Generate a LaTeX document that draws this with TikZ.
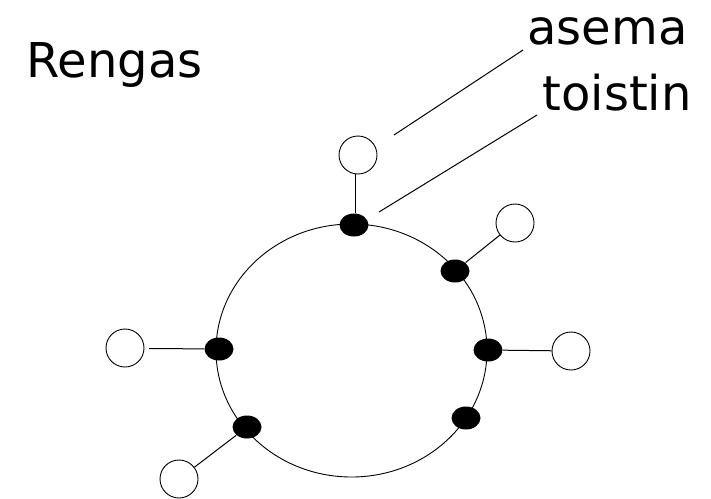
\documentclass[tikz,border=0pt]{standalone}
\usepackage{fontspec}
\setmainfont{DejaVu Sans}
\usetikzlibrary{shapes.geometric}
\begin{document}
\begin{tikzpicture}[x=1pt,y=-1pt,
  line width=1pt,
  station/.style={ellipse,fill=black,draw=none,minimum width=29pt,minimum height=23pt,inner sep=0pt},
  repeater/.style={circle,draw=black,fill=white,minimum size=38pt,inner sep=0pt,line width=0.9pt},
  ringstyle/.style={ellipse,draw=black,minimum width=271pt,minimum height=253pt,inner sep=0pt,line width=0.9pt},
  conn/.style={draw=black,line width=1pt},
  lbl/.style={font=\fontsize{48}{48}\selectfont,inner sep=0pt,anchor=base west}]
\useasboundingbox (0,0) rectangle (711,498);
\fill[white] (0,0) rectangle (711,498);
% ring
\node[ringstyle] (ring) at (351.5,350.5) {};
% stations
\node[station] (d1) at (354,225) {};
\node[station] (d2) at (455,271) {};
\node[station] (d3) at (488,350) {};
\node[station] (d4) at (466,418) {};
\node[station] (d5) at (219,349) {};
\node[station] (d6) at (247,427) {};
% repeaters
\node[repeater] (w1) at (358,155) {};
\node[repeater] (w2) at (515,223) {};
\node[repeater] (w3) at (571,351) {};
\node[repeater] (w5) at (125,348) {};
\node[repeater] (w6) at (179,479) {};
% connectors
\draw[conn] (355,174) -- (d1.north -| 355,174);
\draw[conn] (w2) -- (d2);
\draw[conn] (w3) -- (d3);
\draw[conn] (149,348.5) -- (d5);
\draw[conn] (w6) -- (d6);
% labels
\node[lbl] (rengas) at (26,77) {Rengas};
\node[lbl] (asema) at (527,44) {asema};
\node[lbl] (toistin) at (542,110) {toistin};
\coordinate (a1) at (394,135);
\coordinate (a2) at (523,50);
\coordinate (t1) at (379,212);
\coordinate (t2) at (537,115);
\draw[conn] (a1) -- (a2);
\draw[conn] (t1) -- (t2);
\end{tikzpicture}
\end{document}
